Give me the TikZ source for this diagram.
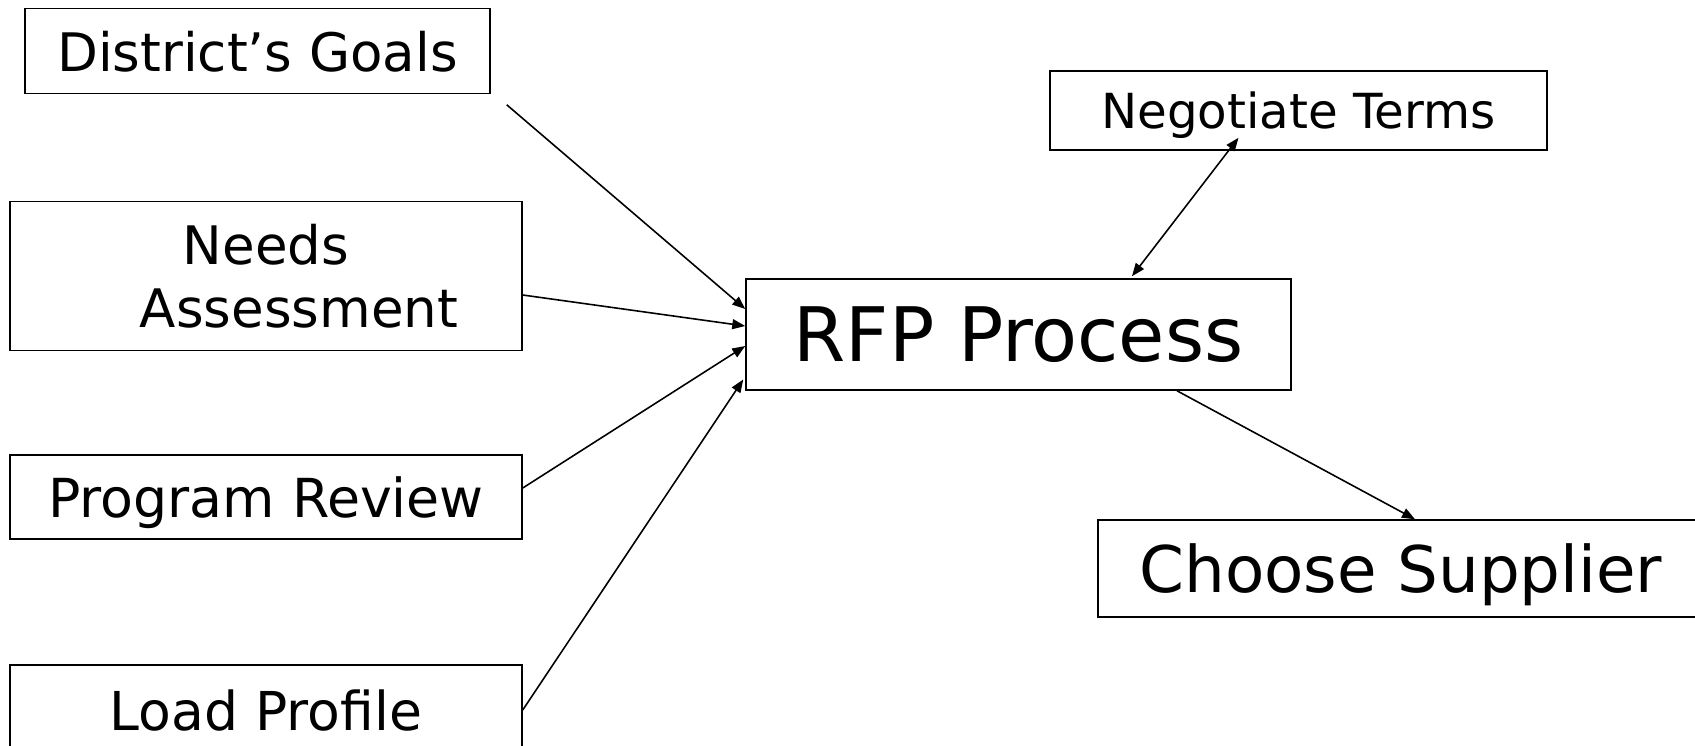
\documentclass[tikz,border=0pt]{standalone}
\usepackage{fontspec}
\setmainfont{DejaVu Sans}
\usetikzlibrary{arrows.meta, positioning, calc}

\begin{document}
\begin{tikzpicture}[x=0.02cm, y=-0.02cm,
    box/.style={rectangle, draw, line width=0.9pt, inner sep=0pt, align=center, text depth=0pt},
    arrow/.style={-{Triangle[length=0.26cm, width=0.2cm]}, line width=0.9pt},
    twoway/.style={{Triangle[length=0.26cm, width=0.2cm]}-{Triangle[length=0.26cm, width=0.2cm]}, line width=0.9pt}
]
\useasboundingbox (0,0) rectangle (1695,745);

% Inputs on the left
\node[box, minimum width=9.3cm, minimum height=1.7cm, font=\fontsize{30.2}{36}\selectfont] (goals) at (257.5,51) {District’s Goals};
\node[box, minimum width=10.24cm, minimum height=2.98cm, font=\fontsize{30.2}{36}\selectfont] (needs) at (266,276) {Needs\\\hspace*{1.32cm}Assessment};
\node[box, minimum width=10.24cm, minimum height=1.68cm, font=\fontsize{30.6}{36}\selectfont] (review) at (266,497) {Program Review};
\node[box, minimum width=10.24cm, minimum height=1.8cm, font=\fontsize{30.5}{36}\selectfont] (load) at (266,710) {Load Profile};

% Main process and what follows it
\node[box, minimum width=10.9cm, minimum height=2.22cm, font=\fontsize{42.8}{50}\selectfont] (rfp) at (1018.5,334.5) {RFP Process};
\node[box, minimum width=9.94cm, minimum height=1.58cm, font=\fontsize{27.5}{32}\selectfont] (terms) at (1298.5,110.5) {Negotiate Terms};
\node[box, minimum width=12.12cm, minimum height=1.94cm, font=\fontsize{36.6}{44}\selectfont] (supplier) at (1401,568.5) {Choose Supplier};

% Inputs into the RFP
\draw[arrow] ([shift={(16,10.5)}]goals.south east) -- ([shift={(0,-25.5)}]rfp.west);
\draw[arrow] ([shift={(0,19)}]needs.east) -- ([shift={(0,-8.5)}]rfp.west);
\draw[arrow] ([shift={(0,-9)}]review.east) -- ([shift={(0,11.5)}]rfp.west);
\draw[arrow] (load.east) -- ([shift={(-2,45)}]rfp.west);

% Out of the RFP
\draw[twoway] ([shift={(-60,-13)}]terms.south) -- ([shift={(113.5,-2)}]rfp.north);
\draw[arrow] ([shift={(158.5,0)}]rfp.south) -- ([shift={(14,0)}]supplier.north);

\end{tikzpicture}
\end{document}
